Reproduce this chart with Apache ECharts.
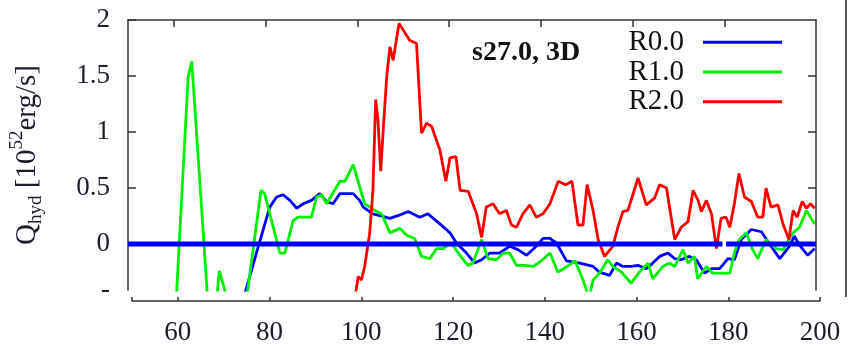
<!DOCTYPE html>
<html><head><meta charset="utf-8">
<script src="https://cdn.jsdelivr.net/npm/echarts@6/dist/echarts.min.js"></script>
<style>html,body{margin:0;padding:0;background:#fff}#c{width:848px;height:346px}</style>
</head><body><div id="c"></div>
<script>
const seriesNames = ['R0.0', 'R1.0', 'R2.0'];
const seriesColors = ['#0000ff', '#00f000', '#ff0000'];
const xTickLabels = [60, 80, 100, 120, 140, 160, 180, 200];
const yTickLabels = [0, 0.5, 1, 1.5, 2];
const titleText = 's27.0, 3D';

const r0X = [75, 78, 80.9, 82.4, 83.8, 85.3, 86.8, 88.2, 90, 91.8, 93.3, 94.7, 96.2, 99.1, 100.5, 101.3, 103.4, 105.3, 107.1, 109.3, 111.1, 113.6, 115.4, 118, 120.2, 121.6, 123.8, 125.6, 127.1, 128.9, 131, 133.2, 135, 136.9, 139, 140.5, 142, 143.4, 145.6, 148.5, 151.4, 152.8, 155, 156.5, 157.9, 159.7, 161.2, 163, 164.4, 165.9, 167.7, 169.2, 170.6, 172.4, 173.9, 175.7, 177.2, 179, 180.8, 182.2, 183.7, 185.9, 188.1, 190.2, 192.1, 194.2, 195.3, 196.4, 198.2, 199.7];
const r0Y = [-0.51, -0.08, 0.33, 0.42, 0.44, 0.39, 0.32, 0.36, 0.39, 0.45, 0.38, 0.36, 0.45, 0.45, 0.39, 0.33, 0.27, 0.25, 0.23, 0.26, 0.29, 0.24, 0.27, 0.18, 0.10, 0.01, -0.08, -0.17, -0.14, -0.08, -0.08, -0.02, -0.05, -0.10, -0.02, 0.05, 0.05, 0.01, -0.15, -0.17, -0.20, -0.25, -0.28, -0.17, -0.20, -0.20, -0.19, -0.22, -0.17, -0.11, -0.08, -0.13, -0.14, -0.11, -0.14, -0.26, -0.22, -0.22, -0.13, -0.14, 0.04, 0.13, 0.11, -0.02, -0.13, -0.02, 0.07, -0.01, -0.10, -0.04];

const r1X = [60, 63.1, 63.9, 68.2, 69.9, 72.5, 74.5, 79, 79.8, 83.1, 84.2, 86, 87.1, 90, 91.1, 92.2, 93.3, 96.2, 97.3, 99.1, 101.6, 103.8, 105.3, 107.1, 109.3, 110.7, 112.5, 114, 115.8, 117.3, 118.7, 120.5, 122, 124.1, 125.2, 127.1, 128.5, 130.3, 131.8, 133.2, 134.7, 136.5, 138.3, 139.8, 142, 143.7, 145, 147.5, 149.2, 150.5, 151.4, 152.8, 154.6, 155.7, 157.6, 159.7, 161.5, 163.4, 164.4, 166.6, 168.1, 169.2, 171, 172.1, 173.5, 174.2, 176.1, 177.5, 181.2, 182.2, 183.3, 184.8, 186.2, 187.3, 189.1, 191.3, 192.8, 195, 196.4, 197.9, 199.7];
const r1Y = [-0.9, 1.49, 1.63, -1.0, -0.24, -0.61, -0.9, 0.48, 0.45, -0.08, -0.08, 0.21, 0.24, 0.24, 0.42, 0.44, 0.36, 0.56, 0.56, 0.71, 0.36, 0.30, 0.27, 0.10, 0.14, 0.08, 0.05, -0.11, -0.13, -0.04, -0.04, 0.01, -0.08, -0.19, -0.17, 0.04, -0.13, -0.14, -0.08, -0.08, -0.19, -0.19, -0.20, -0.16, -0.08, -0.25, -0.22, -0.15, -0.32, -0.48, -0.32, -0.26, -0.14, -0.20, -0.25, -0.35, -0.25, -0.17, -0.31, -0.20, -0.17, -0.20, -0.05, -0.17, -0.11, -0.31, -0.20, -0.26, -0.26, -0.08, 0.04, 0.10, -0.05, -0.13, 0.04, -0.04, -0.05, 0.10, 0.15, 0.30, 0.18];

const r2X = [99.4, 100.2, 100.9, 101.6, 102.7, 103.4, 104, 104.5, 105.1, 105.6, 106.4, 107.1, 107.8, 109.1, 110, 111.4, 112.9, 114, 115.1, 116.2, 118, 119.3, 120.2, 121.5, 122.4, 124.2, 126, 127.1, 128.1, 129.6, 131, 132.5, 133.6, 134.7, 136.1, 137.6, 139, 140.5, 142, 143.8, 145.4, 146.8, 148.1, 149.2, 150.1, 151.4, 152.5, 153.9, 155.7, 156.8, 157.9, 159, 161.2, 163, 164.8, 165.9, 167.4, 169.2, 170.6, 172.1, 173.2, 174.3, 175, 176.1, 177.2, 178.3, 179.3, 180.4, 181.2, 182.2, 183.2, 184.4, 185.9, 187.3, 188.4, 189.1, 190.2, 191.7, 192.8, 194.1, 195, 195.9, 197, 197.9, 198.8, 199.7];
const r2Y = [-0.5, -0.29, -0.32, -0.20, 0.10, 0.48, 1.29, 1.11, 0.65, 0.99, 1.49, 1.76, 1.64, 1.97, 1.91, 1.82, 1.79, 0.99, 1.08, 1.05, 0.84, 0.56, 0.77, 0.78, 0.48, 0.47, 0.27, 0.06, 0.33, 0.36, 0.27, 0.30, 0.17, 0.15, 0.27, 0.35, 0.24, 0.27, 0.36, 0.56, 0.53, 0.56, 0.17, 0.17, 0.53, 0.30, 0.04, -0.11, -0.02, 0.15, 0.29, 0.30, 0.59, 0.35, 0.41, 0.53, 0.50, 0.04, 0.15, 0.20, 0.48, 0.39, 0.29, 0.39, 0.27, -0.04, 0.23, 0.24, 0.15, 0.36, 0.63, 0.42, 0.38, 0.24, 0.24, 0.50, 0.33, 0.35, 0.18, 0.04, 0.30, 0.24, 0.38, 0.32, 0.36, 0.32];

const zeroX = [50, 179.6, 180, 180.4, 200];
const zeroY = [0, 0, '-', 0, 0];

const serif = '"Liberation Serif", "Times New Roman", serif';
const zip = (xs, ys) => xs.map((x, i) => [x, ys[i]]);
const axisCol = '#333';
const txtCol = '#1c1c2c';

const chart = echarts.init(document.getElementById('c'));
const lineSeries = [[r0X, r0Y], [r1X, r1Y], [r2X, r2Y]].map((d, i) => ({
  type: 'line', name: seriesNames[i], xAxisIndex: 0, yAxisIndex: 0,
  data: zip(d[0], d[1]), symbol: 'none', clip: true,
  lineStyle: { color: seriesColors[i], width: 2.8 }, itemStyle: { color: seriesColors[i] }, z: 2 + i
}));
lineSeries.push({
  type: 'line', name: 'zero', xAxisIndex: 0, yAxisIndex: 0, data: zip(zeroX, zeroY),
  symbol: 'none', connectNulls: false, lineStyle: { color: '#0000ff', width: 5 }, z: 10, silent: true
});

chart.setOption({
  animation: false,
  backgroundColor: '#fff',
  title: { text: titleText, left: 472, top: 39, padding: 0,
    textStyle: { fontFamily: serif, fontWeight: 'bold', fontSize: 28, color: '#111' } },
  legend: {
    data: seriesNames, orient: 'vertical', right: 66, top: 27.5, padding: 0, itemGap: 0,
    align: 'right', icon: 'rect', itemWidth: 79, itemHeight: 3,
    textStyle: { fontFamily: serif, fontSize: 29, lineHeight: 29.7, color: '#111', padding: [0, 14, 0, 0] }
  },
  grid: [
    { left: 128, top: 20, width: 688, height: 270 },
    { left: 132, top: 296, width: 688, height: 6 }
  ],
  xAxis: [
    { gridIndex: 0, type: 'value', min: 50, max: 200, position: 'top',
      axisLine: { show: true, onZero: false, lineStyle: { color: axisCol, width: 1.5 } },
      axisTick: { show: true, inside: true, length: 7, customValues: [60, 80, 100, 120, 140, 160, 180], lineStyle: { color: axisCol, width: 1.5 } },
      axisLabel: { show: false }, splitLine: { show: false } },
    { gridIndex: 1, type: 'value', min: 50, max: 200, position: 'bottom',
      axisLine: { show: true, onZero: false, lineStyle: { color: axisCol, width: 1.5 } },
      axisTick: { show: true, inside: true, length: 4, customValues: [50].concat(xTickLabels), lineStyle: { color: axisCol, width: 1.5 } },
      axisLabel: { customValues: xTickLabels, fontFamily: serif, fontSize: 27, color: txtCol, margin: 18 },
      splitLine: { show: false } }
  ],
  yAxis: [
    { gridIndex: 0, type: 'value', min: -0.41, max: 2, position: 'left',
      axisLine: { show: true, onZero: false, lineStyle: { color: axisCol, width: 1.5 } },
      axisTick: { show: true, inside: true, length: 8, customValues: yTickLabels, lineStyle: { color: axisCol, width: 1.5 } },
      axisLabel: { customValues: yTickLabels, fontFamily: serif, fontSize: 27, color: txtCol, margin: 18, padding: [6, 0, 0, 0] },
      splitLine: { show: false },
      name: '{q|Q}{s|hyd}{n| [10}{p|52}{n|erg/s]}', nameLocation: 'middle', nameRotate: 90, nameGap: 82,
      nameTextStyle: { fontFamily: serif, fontSize: 29, color: txtCol,
        rich: {
          q: { fontFamily: serif, fontSize: 29, lineHeight: 38, color: txtCol },
          n: { fontFamily: serif, fontSize: 29, lineHeight: 38, color: txtCol },
          s: { fontFamily: serif, fontSize: 19, lineHeight: 38, verticalAlign: 'bottom', color: txtCol },
          p: { fontFamily: serif, fontSize: 19, lineHeight: 38, verticalAlign: 'top', color: txtCol }
        } } },
    { gridIndex: 0, type: 'value', min: -0.41, max: 2, position: 'right',
      axisLine: { show: true, onZero: false, lineStyle: { color: axisCol, width: 1.5 } },
      axisTick: { show: true, inside: true, length: 8, customValues: [0.5, 1, 1.5], lineStyle: { color: axisCol, width: 1.5 } },
      axisLabel: { show: false }, splitLine: { show: false } },
    { gridIndex: 1, type: 'value', show: false }
  ],
  graphic: [
    { type: 'text', left: 101, top: 276, style: { text: '-', font: '27px "Liberation Serif"', fill: txtCol } },
    { type: 'line', shape: { x1: 846, y1: 0, x2: 846, y2: 297 }, style: { stroke: '#555', lineWidth: 2 } }
  ],
  series: lineSeries
});
</script></body></html>
